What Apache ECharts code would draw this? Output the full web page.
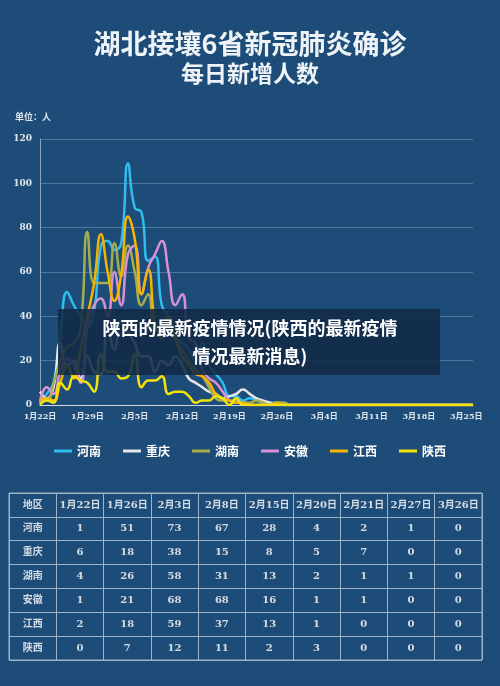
<!DOCTYPE html>
<html><head><meta charset="utf-8">
<script src="https://cdn.jsdelivr.net/npm/echarts@6/dist/echarts.min.js"></script>
<style>html,body{margin:0;padding:0;background:#1e4c78}#main{width:500px;height:686px}</style>
</head><body><div id="main"></div>
<script>
var regions = ['河南', '重庆', '湖南', '安徽', '江西', '陕西'];
var colors = ['#2fbdf0', '#e6e6e6', '#a6ad4c', '#d690d4', '#f5b400', '#f2e20c'];

// 1月22日 .. 3月26日
var days = [];
for (var i = 0; i < 10; i++) days.push('1月' + (22 + i) + '日');
for (var i = 1; i <= 29; i++) days.push('2月' + i + '日');
for (var i = 1; i <= 26; i++) days.push('3月' + i + '日');

var henan = [1,5,10,32,51,45,40,35,42,72,74,70,73,109,89,87,65,67,45,40,30,28,25,20,28,18,14,10,4,4,2,3,2,1,1,1,1,0,0,0,0,0,0,0,0,0,0,0,0,0,0,0,0,0,0,0,0,0,0,0,0,0,0,0,0];
var chongqing = [6,3,8,28,18,20,12,22,15,14,35,25,38,33,28,22,22,15,20,18,22,18,12,10,8,6,5,3,4,5,7,5,3,2,1,0,0,0,0,0,0,0,0,0,0,0,0,0,0,0,0,0,0,0,0,0,0,0,0,0,0,0,0,0,0];
var hunan = [4,2,10,20,26,28,35,78,55,55,55,73,58,72,60,45,50,31,33,40,30,25,20,16,13,8,3,2,2,2,1,1,2,1,0,1,1,0,0,0,0,0,0,0,0,0,0,0,0,0,0,0,0,0,0,0,0,0,0,0,0,0,0,0,0];
var anhui = [1,8,5,15,21,18,10,35,45,48,40,60,45,68,72,50,62,68,74,60,45,50,30,28,16,12,10,6,2,1,1,0,0,0,0,0,0,0,0,0,0,0,0,0,0,0,0,0,0,0,0,0,0,0,0,0,0,0,0,0,0,0,0,0,0];
var jiangxi = [2,3,2,10,18,12,25,40,55,77,60,47,59,85,75,50,61,37,30,40,30,22,18,14,13,10,5,3,2,1,1,0,0,0,0,1,0,0,0,0,0,0,0,0,0,0,0,0,0,0,0,0,0,0,0,0,0,0,0,0,0,0,0,0,0];
var shaanxi = [0,2,1,10,7,13,11,10,6,23,15,15,12,13,23,8,11,11,13,5,6,6,4,1,2,2,4,3,0,3,0,0,0,0,0,0,0,0,0,0,0,0,0,0,0,0,0,0,0,0,0,0,0,0,0,0,0,0,0,0,0,0,0,0,0];
var seriesData = [henan, chongqing, hunan, anhui, jiangxi, shaanxi];

var yTicks = [0, 20, 40, 60, 80, 100, 120];

// table
var tableDates = ['1月22日', '1月26日', '2月3日', '2月8日', '2月15日', '2月20日', '2月21日', '2月27日', '3月26日'];
var tableRows = [
  [1, 51, 73, 67, 28, 4, 2, 1, 0],
  [6, 18, 38, 15, 8, 5, 7, 0, 0],
  [4, 26, 58, 31, 13, 2, 1, 1, 0],
  [1, 21, 68, 68, 16, 1, 1, 0, 0],
  [2, 18, 59, 37, 13, 1, 0, 0, 0],
  [0, 7, 12, 11, 2, 3, 0, 0, 0]
];

var cols = ['地区'].concat(tableDates);
var rows = ['地区'].concat(regions);
var cells = [];
rows.forEach(function (r, ri) {
  cols.forEach(function (c, ci) {
    var txt;
    if (ri === 0) txt = c;
    else if (ci === 0) txt = r;
    else txt = String(tableRows[ri - 1][ci - 1]);
    cells.push({ value: [ci, ri], label: txt });
  });
});

var myChart = echarts.init(document.getElementById('main'));
var font = '"Noto Sans CJK SC", sans-serif';
var series = regions.map(function (name, k) {
  return {
    name: name, type: 'line', smooth: true, showSymbol: false,
    xAxisIndex: 0, yAxisIndex: 0, data: seriesData[k],
    lineStyle: { width: 2.5, color: colors[k] }, itemStyle: { color: colors[k] }
  };
});
series.push({
  type: 'scatter', xAxisIndex: 1, yAxisIndex: 1, symbolSize: 1,
  itemStyle: { color: 'rgba(0,0,0,0)' }, silent: true,
  data: cells,
  label: {
    show: true, position: 'inside', color: '#ffffff', fontWeight: 'bold',
    fontFamily: '"DejaVu Serif", ' + font, fontSize: 10,
    formatter: function (p) { return p.data.label; }
  }
});

var option = {
  backgroundColor: '#1e4c78',
  textStyle: { fontFamily: font },
  title: [
    { text: '湖北接壤6省新冠肺炎确诊', left: 'center', top: 25,
      textStyle: { color: '#eef3f8', fontSize: 27, fontWeight: 'bold', fontFamily: font } },
    { text: '每日新增人数', left: 'center', top: 57,
      textStyle: { color: '#eef3f8', fontSize: 23, fontWeight: 'bold', fontFamily: font } },
    { text: '单位：人', left: 10, top: 107,
      textStyle: { color: '#dfe6ee', fontSize: 9, fontWeight: 'bold', fontFamily: font } }
  ],
  legend: {
    data: regions, top: 440, left: 'center', itemGap: 22,
    icon: 'rect', itemWidth: 18, itemHeight: 3,
    textStyle: { color: '#ffffff', fontWeight: 'bold', fontSize: 12 }
  },
  grid: [
    { left: 40, right: 27, top: 139, height: 266 },
    { left: 9, right: 18, top: 493, height: 167, show: true, borderColor: '#9cb3c9', borderWidth: 1 }
  ],
  xAxis: [
    { type: 'category', gridIndex: 0, data: days, boundaryGap: false,
      axisLine: { lineStyle: { color: '#cfd8e2' } }, axisTick: { show: false },
      axisLabel: { interval: 6, color: '#dfe6ee', fontSize: 8, fontWeight: 'bold', fontFamily: '"DejaVu Serif", ' + font } },
    { type: 'category', gridIndex: 1, data: cols, axisLabel: { show: false }, axisTick: { show: false },
      axisLine: { show: false }, splitLine: { show: true, interval: 0, lineStyle: { color: '#9cb3c9' } } }
  ],
  yAxis: [
    { type: 'value', gridIndex: 0, min: 0, max: 120, interval: 20,
      axisLine: { show: true, lineStyle: { color: '#8aa3bd' } },
      axisLabel: { color: '#dfe6ee', fontSize: 9, fontWeight: 'bold', fontFamily: '"DejaVu Serif", ' + font,
        formatter: function (v) { return yTicks.indexOf(v) >= 0 ? v : ''; } },
      splitLine: { lineStyle: { color: 'rgba(180,200,220,0.35)' } } },
    { type: 'category', gridIndex: 1, data: rows, inverse: true, axisLabel: { show: false }, axisTick: { show: false },
      axisLine: { show: false }, splitLine: { show: true, interval: 0, lineStyle: { color: '#9cb3c9' } } }
  ],
  graphic: [
    { type: 'rect', left: 58, top: 309, shape: { width: 382, height: 66 },
      style: { fill: 'rgba(18,42,70,0.88)' }, z: 100 },
    { type: 'text', left: 'center', top: 314, z: 101,
      style: { text: '陕西的最新疫情情况(陕西的最新疫情\n情况最新消息)', fill: '#ffffff',
        font: 'bold 18px "Noto Sans CJK SC"', textAlign: 'center', lineHeight: 28 } }
  ],
  series: series
};
myChart.setOption(option);
window.addEventListener('resize', function () { myChart.resize(); });
</script></body></html>
